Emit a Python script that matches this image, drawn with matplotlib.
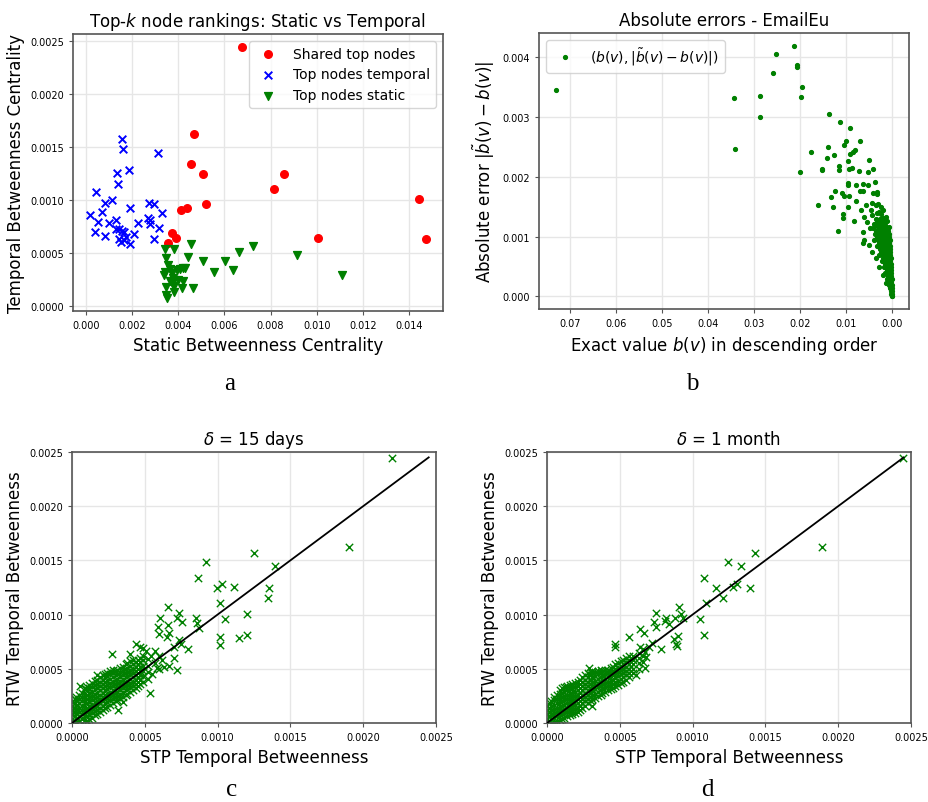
import matplotlib
matplotlib.use("Agg")
import matplotlib.pyplot as plt

# ---- panel a: top-k node rankings ----
shared_x = [0.00678, 0.00466, 0.00456, 0.00505, 0.00518, 0.00413, 0.00436, 0.00374,
            0.00391, 0.00356, 0.00814, 0.00860, 0.01007, 0.01442, 0.01475]
shared_y = [0.002446, 0.001617, 0.001335, 0.001244, 0.000965, 0.000902, 0.000924, 0.000690,
            0.000636, 0.000595, 0.001104, 0.001247, 0.000636, 0.001010, 0.000633]

temporal_x = [0.00156, 0.00162, 0.00313, 0.00185, 0.00133, 0.00137, 0.00042, 0.00114, 0.00081,
              0.00191, 0.00016, 0.00068, 0.00051, 0.00101, 0.00128, 0.00227, 0.00271, 0.00294,
              0.00329, 0.00267, 0.00276, 0.00277, 0.00316, 0.00294, 0.00208, 0.00039, 0.00082,
              0.00130, 0.00144, 0.00154, 0.00165, 0.00141, 0.00150, 0.00165, 0.00173, 0.00192]
temporal_y = [0.001570, 0.001484, 0.001446, 0.001278, 0.001256, 0.001152, 0.001070, 0.001003,
              0.000972, 0.000927, 0.000861, 0.000886, 0.000794, 0.000782, 0.000810, 0.000785,
              0.000972, 0.000962, 0.000873, 0.000826, 0.000807, 0.000769, 0.000734, 0.000633,
              0.000680, 0.000696, 0.000661, 0.000728, 0.000722, 0.000706, 0.000699, 0.000627,
              0.000598, 0.000617, 0.000652, 0.000585]

static_x = [0.00342, 0.00381, 0.00453, 0.00346, 0.00440, 0.00505, 0.00602, 0.00665, 0.00725,
            0.00914, 0.01110, 0.00556, 0.00635, 0.00356, 0.00364, 0.00343, 0.00339, 0.00372,
            0.00393, 0.00407, 0.00419, 0.00430, 0.00378, 0.00400, 0.00419, 0.00364, 0.00372,
            0.00381, 0.00345, 0.00417, 0.00465, 0.00382, 0.00346, 0.00349]
static_y = [0.000538, 0.000538, 0.000585, 0.000449, 0.000456, 0.000424, 0.000424, 0.000503,
            0.000566, 0.000475, 0.000291, 0.000323, 0.000335, 0.000389, 0.000351, 0.000316,
            0.000291, 0.000310, 0.000342, 0.000348, 0.000354, 0.000358, 0.000259, 0.000247,
            0.000231, 0.000231, 0.000215, 0.000184, 0.000174, 0.000165, 0.000165, 0.000133,
            0.000098, 0.000070]

# ---- panel b: absolute errors (b(v), error) ----
errors_sparse = [
    (0.0731, 0.00345), (0.0344, 0.00332), (0.0342, 0.00246), (0.0288, 0.00335), (0.0288, 0.00301),
    (0.0260, 0.00374), (0.0252, 0.00406), (0.0214, 0.00420), (0.0206, 0.00388), (0.0206, 0.00384),
    (0.0197, 0.00350), (0.0199, 0.00334), (0.0200, 0.00209), (0.0137, 0.00305), (0.0113, 0.00292),
    (0.0092, 0.00282), (0.0100, 0.00260), (0.0105, 0.00253), (0.0070, 0.00260), (0.0139, 0.00251),
    (0.0177, 0.00242), (0.0142, 0.00232), (0.0126, 0.00236), (0.0092, 0.00239), (0.0085, 0.00241),
    (0.0080, 0.00245), (0.0051, 0.00229), (0.0097, 0.00226), (0.0152, 0.00214), (0.0152, 0.00212),
    (0.0115, 0.00219), (0.0115, 0.00212), (0.0093, 0.00214), (0.0087, 0.00215), (0.0073, 0.00210),
    (0.0041, 0.00213), (0.0053, 0.00208), (0.0097, 0.00190), (0.0097, 0.00187), (0.0078, 0.00187),
    (0.0063, 0.00188), (0.0053, 0.00187), (0.0038, 0.00191), (0.0070, 0.00176), (0.0063, 0.00177),
    (0.0124, 0.00176), (0.0109, 0.00174), (0.0104, 0.00168), (0.0093, 0.00169), (0.0133, 0.00166),
    (0.0032, 0.00175), (0.0032, 0.00171), (0.0042, 0.00174), (0.0079, 0.00160), (0.0128, 0.00149),
    (0.0096, 0.00149), (0.0162, 0.00153), (0.0106, 0.00138), (0.0106, 0.00131), (0.0118, 0.00110),
    (0.0082, 0.00126), (0.0057, 0.00153), (0.0043, 0.00156), (0.0035, 0.00153), (0.0068, 0.00144),
    (0.0046, 0.00144), (0.0028, 0.00142), (0.0061, 0.00133), (0.0043, 0.00136), (0.0021, 0.00131),
    (0.0054, 0.00125), (0.0035, 0.00119), (0.0007, 0.00117), (0.0064, 0.00108), (0.0061, 0.00094),
    (0.0063, 0.00089), (0.0050, 0.00086), (0.0043, 0.00075), (0.0035, 0.00064), (0.0028, 0.00050),
    (0.0021, 0.00036), (0.0014, 0.00022), (0.0030, 0.00155), (0.0025, 0.00150), (0.0020, 0.00145),
    (0.0033, 0.00140), (0.0025, 0.00138), (0.0014, 0.00133), (0.0030, 0.00128), (0.0018, 0.00125),
    (0.0040, 0.00122), (0.0026, 0.00120), (0.0012, 0.00126), (0.0048, 0.00115), (0.0031, 0.00113),
    (0.0022, 0.00112),
]
# dense wedge near zero: error level -> exact values seen at that level
errors_dense = [
    (0.00130, [0.0036, 0.0027, 0.0016]),
    (0.00125, [0.0034, 0.0025, 0.0018]),
    (0.00120, [0.0038, 0.0030, 0.0022, 0.0015]),
    (0.00115, [0.0041, 0.0026, 0.0017, 0.0010]),
    (0.00110, [0.0036, 0.0028, 0.0020, 0.0013, 0.0009]),
    (0.00105, [0.0038, 0.0030, 0.0024, 0.0018, 0.0012, 0.0008]),
    (0.00100, [0.0034, 0.0027, 0.0021, 0.0015, 0.0010, 0.0006]),
    (0.00095, [0.0040, 0.0031, 0.0025, 0.0019, 0.0013, 0.0008, 0.0005]),
    (0.00090, [0.0029, 0.0022, 0.0016, 0.0011, 0.0006]),
    (0.00085, [0.0033, 0.0026, 0.0020, 0.0014, 0.0009, 0.0005]),
    (0.00080, [0.0027, 0.0021, 0.0016, 0.0011, 0.0007, 0.0004]),
    (0.00075, [0.0024, 0.0018, 0.0013, 0.0009, 0.0005]),
    (0.00070, [0.0028, 0.0021, 0.0016, 0.0011, 0.0007, 0.0004]),
    (0.00065, [0.0019, 0.0014, 0.0009, 0.0006, 0.0003]),
    (0.00060, [0.0023, 0.0017, 0.0012, 0.0008, 0.0004]),
    (0.00055, [0.0015, 0.0011, 0.0007, 0.0003]),
    (0.00050, [0.0018, 0.0013, 0.0009, 0.0005, 0.0002]),
    (0.00045, [0.0012, 0.0008, 0.0004, 0.0002]),
    (0.00040, [0.0015, 0.0010, 0.0006, 0.0003]),
    (0.00035, [0.0009, 0.0005, 0.0002]),
    (0.00030, [0.0012, 0.0007, 0.0004, 0.0001]),
    (0.00025, [0.0008, 0.0005, 0.0002]),
    (0.00020, [0.0006, 0.0003, 0.0001]),
    (0.00015, [0.0005, 0.0002, 0.0000]),
    (0.00010, [0.0003, 0.0001]),
    (0.00005, [0.0002, 0.0000]),
    (0.00000, [0.0001, 0.0000]),
]

# ---- panel c: delta = 15 days (STP, RTW) ----
c_sparse = [
    (0.002198, 0.002448), (0.001903, 0.001619), (0.001251, 0.001569), (0.000922, 0.001483),
    (0.001393, 0.001447), (0.000867, 0.001336), (0.000999, 0.001247), (0.001027, 0.001284),
    (0.001116, 0.001259), (0.001352, 0.001247), (0.001343, 0.001152), (0.001016, 0.001106),
    (0.001201, 0.001001), (0.001048, 0.000958), (0.001016, 0.000789), (0.001016, 0.000716),
    (0.001144, 0.000783), (0.001201, 0.000811), (0.000659, 0.001072), (0.000606, 0.000967),
    (0.000734, 0.001014), (0.000720, 0.000967), (0.000753, 0.000928), (0.000656, 0.000906),
    (0.000849, 0.000967), (0.000860, 0.000921), (0.000871, 0.000872), (0.000592, 0.000881),
    (0.000597, 0.000820), (0.000666, 0.000826), (0.000652, 0.000789), (0.000734, 0.000768),
    (0.000746, 0.000728), (0.000796, 0.000682), (0.000698, 0.000697), (0.000698, 0.000596),
    (0.000663, 0.000528), (0.000720, 0.000491), (0.000586, 0.000507), (0.000567, 0.000666),
    (0.000629, 0.000513), (0.000274, 0.000636), (0.000535, 0.000276), (0.000437, 0.000728),
    (0.000485, 0.000688), (0.000398, 0.000636), (0.000172, 0.000445), (0.000057, 0.000338),
    (0.000091, 0.000319), (0.000313, 0.000120), (0.000350, 0.000190), (0.000550, 0.000450),
    (0.000570, 0.000550), (0.000600, 0.000500), (0.000620, 0.000580), (0.000540, 0.000620),
    (0.000510, 0.000660), (0.000470, 0.000700), (0.000440, 0.000400), (0.000600, 0.000620),
]
c_band = [
    (0.00000, [0.00000, 0.00004, 0.00008, 0.00012, 0.00016, 0.00019]),
    (0.00002, [0.00002, 0.00006, 0.00010, 0.00014, 0.00018, 0.00022]),
    (0.00003, [0.00001, 0.00005, 0.00009, 0.00013, 0.00017, 0.00021, 0.00024]),
    (0.00005, [0.00002, 0.00006, 0.00010, 0.00014, 0.00018, 0.00022, 0.00026]),
    (0.00007, [0.00000, 0.00004, 0.00008, 0.00012, 0.00016, 0.00020, 0.00024, 0.00028]),
    (0.00009, [0.00003, 0.00007, 0.00011, 0.00015, 0.00019, 0.00023, 0.00027, 0.00031]),
    (0.00010, [0.00002, 0.00006, 0.00010, 0.00014, 0.00018, 0.00022, 0.00026, 0.00030, 0.00033]),
    (0.00012, [0.00004, 0.00008, 0.00012, 0.00016, 0.00020, 0.00024, 0.00028, 0.00032, 0.00035]),
    (0.00014, [0.00005, 0.00009, 0.00013, 0.00017, 0.00021, 0.00025, 0.00029, 0.00033, 0.00037]),
    (0.00016, [0.00007, 0.00011, 0.00015, 0.00019, 0.00023, 0.00027, 0.00031, 0.00035, 0.00039]),
    (0.00017, [0.00008, 0.00012, 0.00016, 0.00020, 0.00024, 0.00028, 0.00032, 0.00036, 0.00040]),
    (0.00019, [0.00010, 0.00014, 0.00018, 0.00022, 0.00026, 0.00030, 0.00034, 0.00038, 0.00042]),
    (0.00021, [0.00012, 0.00016, 0.00020, 0.00024, 0.00028, 0.00032, 0.00036, 0.00040, 0.00044]),
    (0.00023, [0.00014, 0.00018, 0.00022, 0.00026, 0.00030, 0.00034, 0.00038, 0.00042, 0.00045]),
    (0.00024, [0.00015, 0.00019, 0.00023, 0.00027, 0.00031, 0.00035, 0.00039, 0.00043, 0.00046]),
    (0.00026, [0.00017, 0.00021, 0.00025, 0.00029, 0.00033, 0.00037, 0.00041, 0.00045, 0.00048]),
    (0.00028, [0.00018, 0.00022, 0.00026, 0.00030, 0.00034, 0.00038, 0.00042, 0.00046, 0.00049]),
    (0.00030, [0.00020, 0.00024, 0.00028, 0.00032, 0.00036, 0.00040, 0.00044, 0.00048]),
    (0.00031, [0.00021, 0.00025, 0.00029, 0.00033, 0.00037, 0.00041, 0.00045, 0.00049]),
    (0.00033, [0.00023, 0.00027, 0.00031, 0.00035, 0.00039, 0.00043, 0.00047, 0.00051]),
    (0.00035, [0.00024, 0.00028, 0.00032, 0.00036, 0.00040, 0.00044, 0.00048, 0.00052]),
    (0.00037, [0.00026, 0.00030, 0.00034, 0.00038, 0.00042, 0.00046, 0.00050, 0.00054]),
    (0.00038, [0.00027, 0.00031, 0.00035, 0.00039, 0.00043, 0.00047, 0.00051, 0.00055]),
    (0.00040, [0.00029, 0.00033, 0.00037, 0.00041, 0.00045, 0.00049, 0.00053, 0.00057]),
    (0.00042, [0.00030, 0.00034, 0.00038, 0.00042, 0.00046, 0.00050, 0.00054, 0.00058]),
    (0.00044, [0.00032, 0.00036, 0.00040, 0.00044, 0.00048, 0.00052, 0.00056]),
    (0.00045, [0.00034, 0.00038, 0.00042, 0.00046, 0.00050, 0.00054, 0.00058]),
    (0.00047, [0.00036, 0.00040, 0.00044, 0.00048, 0.00052, 0.00056, 0.00060]),
    (0.00049, [0.00038, 0.00043, 0.00048, 0.00053, 0.00058, 0.00062]),
    (0.00052, [0.00041, 0.00047, 0.00053, 0.00059]),
]

# ---- panel d: delta = 1 month (STP, RTW) ----
d_sparse = [
    (0.002445, 0.002448), (0.001889, 0.001619), (0.001427, 0.001569), (0.001242, 0.001483),
    (0.001331, 0.001447), (0.001077, 0.001336), (0.001162, 0.001247), (0.001279, 0.001259),
    (0.001304, 0.001284), (0.001391, 0.001247), (0.001208, 0.001152), (0.001091, 0.001106),
    (0.001054, 0.000958), (0.001075, 0.000811), (0.000906, 0.001072), (0.000922, 0.001004),
    (0.000931, 0.000967), (0.000878, 0.000967), (0.000819, 0.000967), (0.000748, 0.001010),
    (0.000734, 0.000934), (0.000750, 0.000881), (0.000839, 0.000912), (0.000810, 0.000943),
    (0.000640, 0.000863), (0.000663, 0.000826), (0.000560, 0.000792), (0.000467, 0.000728),
    (0.000467, 0.000700), (0.000782, 0.000682), (0.000869, 0.000774), (0.000887, 0.000731),
    (0.000894, 0.000713), (0.000901, 0.000805), (0.000675, 0.000651), (0.000677, 0.000605),
    (0.000675, 0.000510), (0.000608, 0.000442), (0.000286, 0.000504), (0.000309, 0.000154),
    (0.000128, 0.000335), (0.000700, 0.000700), (0.000720, 0.000740), (0.000640, 0.000700),
]
d_band = [
    (0.00000, [0.00000, 0.00004, 0.00008, 0.00012, 0.00016]),
    (0.00002, [0.00002, 0.00006, 0.00010, 0.00014, 0.00018]),
    (0.00003, [0.00000, 0.00004, 0.00008, 0.00012, 0.00016, 0.00020]),
    (0.00005, [0.00001, 0.00005, 0.00009, 0.00013, 0.00017, 0.00021, 0.00024]),
    (0.00007, [0.00002, 0.00006, 0.00010, 0.00014, 0.00018, 0.00022, 0.00026]),
    (0.00009, [0.00003, 0.00007, 0.00011, 0.00015, 0.00019, 0.00023, 0.00027, 0.00030]),
    (0.00010, [0.00004, 0.00008, 0.00012, 0.00016, 0.00020, 0.00024, 0.00028, 0.00032]),
    (0.00012, [0.00005, 0.00009, 0.00013, 0.00017, 0.00021, 0.00025, 0.00029, 0.00033]),
    (0.00014, [0.00006, 0.00010, 0.00014, 0.00018, 0.00022, 0.00026, 0.00030, 0.00034]),
    (0.00016, [0.00007, 0.00011, 0.00015, 0.00019, 0.00023, 0.00027, 0.00031, 0.00035]),
    (0.00017, [0.00008, 0.00012, 0.00016, 0.00020, 0.00024, 0.00028, 0.00032, 0.00036]),
    (0.00019, [0.00009, 0.00013, 0.00017, 0.00021, 0.00025, 0.00029, 0.00033, 0.00037]),
    (0.00021, [0.00010, 0.00014, 0.00018, 0.00022, 0.00026, 0.00030, 0.00034, 0.00038]),
    (0.00023, [0.00012, 0.00016, 0.00020, 0.00024, 0.00028, 0.00032, 0.00036, 0.00040]),
    (0.00024, [0.00014, 0.00018, 0.00022, 0.00026, 0.00030, 0.00034, 0.00038, 0.00042]),
    (0.00026, [0.00016, 0.00020, 0.00024, 0.00028, 0.00032, 0.00036, 0.00040, 0.00044]),
    (0.00028, [0.00018, 0.00022, 0.00026, 0.00030, 0.00034, 0.00038, 0.00042, 0.00046]),
    (0.00030, [0.00020, 0.00024, 0.00028, 0.00032, 0.00036, 0.00040, 0.00044, 0.00047]),
    (0.00031, [0.00022, 0.00026, 0.00030, 0.00034, 0.00038, 0.00042, 0.00046, 0.00048]),
    (0.00033, [0.00023, 0.00027, 0.00031, 0.00035, 0.00039, 0.00043, 0.00047]),
    (0.00035, [0.00025, 0.00029, 0.00033, 0.00037, 0.00041, 0.00045, 0.00048]),
    (0.00037, [0.00026, 0.00030, 0.00034, 0.00038, 0.00042, 0.00046, 0.00049]),
    (0.00038, [0.00028, 0.00032, 0.00036, 0.00040, 0.00044, 0.00048]),
    (0.00040, [0.00029, 0.00033, 0.00037, 0.00041, 0.00045, 0.00049]),
    (0.00042, [0.00030, 0.00034, 0.00038, 0.00042, 0.00046, 0.00049]),
    (0.00044, [0.00031, 0.00035, 0.00039, 0.00043, 0.00047, 0.00051]),
    (0.00045, [0.00032, 0.00036, 0.00040, 0.00044, 0.00048, 0.00052]),
    (0.00047, [0.00034, 0.00038, 0.00042, 0.00046, 0.00050, 0.00054]),
    (0.00049, [0.00035, 0.00039, 0.00043, 0.00047, 0.00051, 0.00055]),
    (0.00051, [0.00037, 0.00041, 0.00045, 0.00049, 0.00053, 0.00057]),
    (0.00052, [0.00038, 0.00042, 0.00046, 0.00050, 0.00054, 0.00058]),
    (0.00054, [0.00040, 0.00044, 0.00048, 0.00052, 0.00056, 0.00060]),
    (0.00056, [0.00042, 0.00046, 0.00050, 0.00054, 0.00058, 0.00062]),
    (0.00059, [0.00046, 0.00050, 0.00054, 0.00058, 0.00062]),
    (0.00063, [0.00050, 0.00055, 0.00060, 0.00065]),
    (0.00066, [0.00056, 0.00062, 0.00068]),
]

diag = [0.0, 0.00245]
limits_cd = (0.0, 0.0025)

SPINE = "#555555"
GRID = "#e6e6e6"


def unpack(sparse, band=None, band_is_rows=False):
    xs = [p[0] for p in sparse]
    ys = [p[1] for p in sparse]
    for key, vals in band or []:
        for v in vals:
            if band_is_rows:
                xs.append(v)
                ys.append(key)
            else:
                xs.append(key)
                ys.append(v)
    return xs, ys


def style(ax):
    ax.grid(True, color=GRID, linewidth=1.0)
    ax.set_axisbelow(True)
    for sp in ax.spines.values():
        sp.set_color(SPINE)
        sp.set_linewidth(1.2)
    ax.tick_params(labelsize=7, color=SPINE, length=3)


fig = plt.figure(figsize=(9.29, 8.03), dpi=100)
ax_a = fig.add_axes([0.0786, 0.6115, 0.3983, 0.3449])
ax_b = fig.add_axes([0.5802, 0.6139, 0.3983, 0.3438])
ax_c = fig.add_axes([0.0775, 0.0984, 0.3918, 0.3375])
ax_d = fig.add_axes([0.5888, 0.0984, 0.3918, 0.3375])

# a
style(ax_a)
ax_a.scatter(shared_x, shared_y, c="red", marker="o", s=30, label="Shared top nodes", zorder=3)
ax_a.scatter(temporal_x, temporal_y, c="blue", marker="x", s=30, linewidths=1.4,
             label="Top nodes temporal", zorder=3)
ax_a.scatter(static_x, static_y, c="green", marker="v", s=32, label="Top nodes static", zorder=3)
ax_a.set_title(r"Top-$k$ node rankings: Static vs Temporal", fontsize=12)
ax_a.set_xlabel("Static Betweenness Centrality", fontsize=12)
ax_a.set_ylabel("Temporal Betweenness Centrality", fontsize=12)
ax_a.legend(loc="upper right", fontsize=10)

# b
style(ax_b)
bx, by = unpack(errors_sparse, errors_dense, band_is_rows=True)
ax_b.plot(bx, by, ".", color="green", markersize=5.5, linestyle="none",
          label=r"$(b(v), |\tilde{b}(v) - b(v)|)$")
ax_b.invert_xaxis()
ax_b.set_title("Absolute errors - EmailEu", fontsize=12)
ax_b.set_xlabel(r"Exact value $b(v)$ in descending order", fontsize=12)
ax_b.set_ylabel(r"Absolute error $|\tilde{b}(v) - b(v)|$", fontsize=12)
ax_b.legend(loc="upper left", fontsize=10)

# c, d
for ax, sparse, band, title in [(ax_c, c_sparse, c_band, r"$\delta$ = 15 days"),
                                (ax_d, d_sparse, d_band, r"$\delta$ = 1 month")]:
    style(ax)
    xs, ys = unpack(sparse, band)
    ax.scatter(xs, ys, c="green", marker="x", s=28, linewidths=1.0, zorder=2)
    ax.plot(diag, diag, color="black", linewidth=1.3, zorder=3)
    ax.set_xlim(*limits_cd)
    ax.set_ylim(*limits_cd)
    ax.set_xticks([0.0, 0.0005, 0.001, 0.0015, 0.002, 0.0025])
    ax.set_yticks([0.0, 0.0005, 0.001, 0.0015, 0.002, 0.0025])
    ax.set_title(title, fontsize=12)
    ax.set_xlabel("STP Temporal Betweenness", fontsize=12)
    ax.set_ylabel("RTW Temporal Betweenness", fontsize=12)

# panel letters
for letter, fx, fy in [("a", 230, 390), ("b", 692, 390), ("c", 232, 796), ("d", 707, 796)]:
    fig.text(fx / 929, 1 - fy / 803, letter, family="Liberation Serif", fontsize=18,
             ha="center", va="baseline")

fig.savefig("out.png", dpi=100)
